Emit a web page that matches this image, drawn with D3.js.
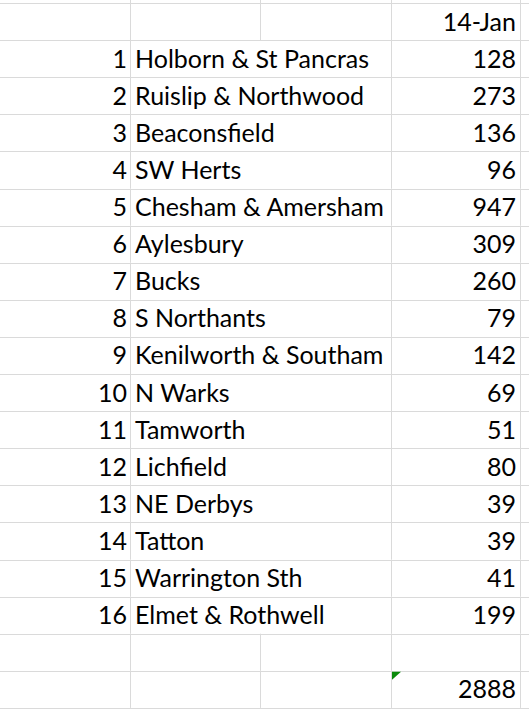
<!DOCTYPE html>
<html>
<head>
<meta charset="utf-8">
<script src="https://cdn.jsdelivr.net/npm/d3@7"></script>
<style>
  body { margin: 0; background: #fff; }
  svg text { font-family: Lato, "Open Sans", sans-serif; font-size: 25px; fill: #000; }
</style>
</head>
<body>
<svg></svg>
<script>
const header = "14-Jan";
const ranks = [1, 2, 3, 4, 5, 6, 7, 8, 9, 10, 11, 12, 13, 14, 15, 16];
const names = ["Holborn & St Pancras", "Ruislip & Northwood", "Beaconsfield", "SW Herts",
  "Chesham & Amersham", "Aylesbury", "Bucks", "S Northants", "Kenilworth & Southam",
  "N Warks", "Tamworth", "Lichfield", "NE Derbys", "Tatton", "Warrington Sth", "Elmet & Rothwell"];
const values = [128, 273, 136, 96, 947, 309, 260, 79, 142, 69, 51, 80, 39, 39, 41, 199];
const total = 2888;

const W = 529, H = 711;
const svg = d3.select("svg").attr("width", W).attr("height", H);

// rows: header, 16 data rows, blank, total
const rowCount = 19;
const y = d3.scaleBand().domain(d3.range(rowCount)).range([3, 3 + 37.1 * rowCount]);
const colEdges = [0, 130, 260, 391, 520];

// horizontal grid lines
svg.append("g").selectAll("line")
  .data(d3.range(rowCount + 1))
  .join("line")
  .attr("x1", 0).attr("x2", W)
  .attr("y1", d => Math.round(d === rowCount ? y(rowCount - 1) + y.bandwidth() : y(d)) + 0.5)
  .attr("y2", d => Math.round(d === rowCount ? y(rowCount - 1) + y.bandwidth() : y(d)) + 0.5)
  .attr("stroke", "#dadada");

// vertical grid lines (column B/C line hidden where names overflow)
const vsegs = [];
for (let r = -1; r < rowCount; r++) {
  const top = r < 0 ? 0 : y(r), bot = r < 0 ? 3 : y(r) + y.bandwidth();
  colEdges.slice(1).forEach(x => {
    if (x === 260 && r >= 1 && r <= 16) return;
    vsegs.push({ x, top, bot });
  });
}
svg.append("g").selectAll("line")
  .data(vsegs)
  .join("line")
  .attr("x1", d => d.x + 0.5).attr("x2", d => d.x + 0.5)
  .attr("y1", d => d.top).attr("y2", d => d.bot)
  .attr("stroke", "#dadada");

svg.append("defs").append("clipPath").attr("id", "colB")
  .append("rect").attr("x", 130).attr("y", 0).attr("width", 260).attr("height", H);

const ty = i => y(i) + y.bandwidth() / 2 + 9;

svg.append("text").attr("x", 516).attr("y", ty(0)).attr("text-anchor", "end").text(header);

const rows = svg.append("g").selectAll("g").data(ranks).join("g");
rows.append("text").attr("x", 127).attr("y", (d, i) => ty(i + 1))
  .attr("text-anchor", "end").text(d => d);
rows.append("text").attr("x", 135).attr("y", (d, i) => ty(i + 1))
  .attr("clip-path", "url(#colB)").text((d, i) => names[i]);
rows.append("text").attr("x", 516).attr("y", (d, i) => ty(i + 1))
  .attr("text-anchor", "end").text((d, i) => values[i]);

// total row with green error marker
const tr = rowCount - 1;
svg.append("path")
  .attr("d", `M${colEdges[3] + 1},${y(tr) + 1}h9l-9,8z`)
  .attr("fill", "#0a8a0a");
svg.append("text").attr("x", 516).attr("y", ty(tr)).attr("text-anchor", "end").text(total);
</script>
</body>
</html>
